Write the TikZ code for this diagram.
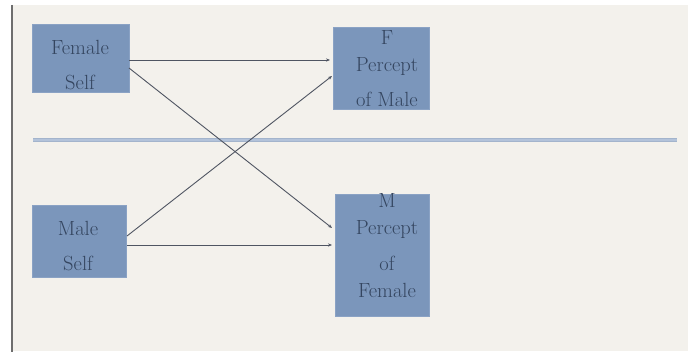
\documentclass[tikz,border=0pt]{standalone}
\usetikzlibrary{arrows.meta,calc}
\definecolor{paper}{HTML}{F3F1EC}
\definecolor{boxfill}{HTML}{7B96BB}
\definecolor{boxedge}{HTML}{8AA2C4}
\definecolor{txt}{HTML}{34455F}
\definecolor{arrowc}{HTML}{4F5562}
\definecolor{sepc}{HTML}{B3C3DA}
\definecolor{sepedge}{HTML}{A3B4CC}
\definecolor{borderc}{HTML}{6E6E6E}
\begin{document}
\begin{tikzpicture}[x=1pt,y=-1pt,
  box/.style={draw=boxedge,line width=0.6pt,fill=boxfill,inner sep=0pt,outer sep=0pt},
  lbl/.style={text=txt,font=\fontsize{20.5}{20.5}\selectfont,anchor=base,inner sep=0pt},
  arr/.style={draw=arrowc,line width=0.9pt,-{Stealth[length=4pt,width=3.2pt]}}]
\useasboundingbox (0,0) rectangle (688,352);
\fill[white] (0,0) rectangle (688,352);
\fill[paper] (12,5) rectangle (688,351);
\draw[borderc,line width=2pt] (12,5) -- (12,352);
% separator
\draw[sepedge,line width=4.4pt] (33,140) -- (677,140);
\draw[sepc,line width=2.4pt] (33,140) -- (677,140);
% boxes
\node[box,minimum width=97pt,minimum height=68pt] (fs) at (80.5,58) {};
\node[box,minimum width=96pt,minimum height=82pt] (fp) at (381,68) {};
\node[box,minimum width=94pt,minimum height=72pt] (ms) at (79,241) {};
\node[box,minimum width=94pt,minimum height=122pt] (mp) at (382,255) {};
% labels
\node[lbl] (fs1) at (80,55) {Female};
\node[lbl] (fs2) at (80,90) {Self};
\node[lbl] (fp1) at (387,45) {F};
\node[lbl] (fp2) at (387,72) {Percept};
\node[lbl] (fp3) at (387,107) {of Male};
\node[lbl] (ms1) at (78,236) {Male};
\node[lbl] (ms2) at (78,271) {Self};
\node[lbl] (mp1) at (387,208) {M};
\node[lbl] (mp2) at (387,235) {Percept};
\node[lbl] (mp3) at (387,271) {of};
\node[lbl] (mp4) at (387,298) {Female};
% connectors
\draw[arr] ([yshift=-2pt]fs.east) -- ([xshift=-3pt,yshift=8pt]fp.west);
\draw[arr] ([yshift=-10pt]fs.east) -- ([xshift=-3pt,yshift=27pt]mp.west);
\draw[arr] ([xshift=1pt,yshift=5pt]ms.east) -- ([xshift=-1pt,yshift=-8pt]fp.west);
\draw[arr] ([xshift=1pt,yshift=-4pt]ms.east) -- ([xshift=-3pt,yshift=10pt]mp.west);
\end{tikzpicture}
\end{document}
